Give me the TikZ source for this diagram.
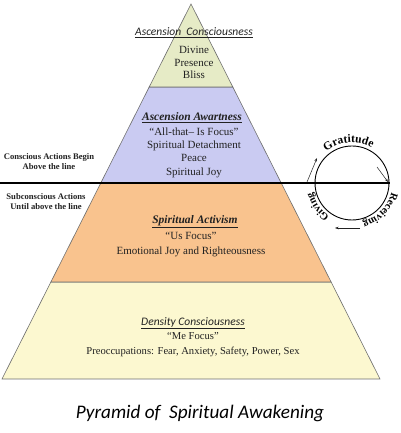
\documentclass[tikz,border=0pt]{standalone}
\usepackage{fontspec}
\setmainfont{Liberation Serif}
\newfontfamily\headfont{Carlito}
\usetikzlibrary{decorations.text,arrows.meta}
\definecolor{pgreen}{HTML}{E6EBC6}
\definecolor{pblue}{HTML}{CACBF2}
\definecolor{porange}{HTML}{F9C38E}
\definecolor{pyellow}{HTML}{FCF8D0}
\definecolor{edgegray}{HTML}{6E6E6E}
\definecolor{ink}{HTML}{222222}
\tikzset{
  tier/.style={draw=edgegray, line width=0.6pt},
  body/.style={align=center, text=ink, inner sep=0pt},
  headc/.style={text=ink, inner sep=0pt, font=\headfont\itshape\fontsize{11.5}{13}\selectfont},
  heads/.style={text=ink, inner sep=0pt, font=\bfseries\itshape\fontsize{11.5}{13}\selectfont},
  side/.style={align=center, text=ink, inner sep=0pt, font=\bfseries\fontsize{8.6}{10}\selectfont},
  flow/.style={draw=ink, line width=0.5pt, -{Stealth[length=3.5pt,width=2.5pt]}}
}
\begin{document}
\begin{tikzpicture}[x=1pt,y=1pt]
\useasboundingbox (0,0) rectangle (400,433);
\fill[white] (0,0) rectangle (400,433);
% tiers
\path[tier, fill=pyellow] (2,54) -- (380,54) -- (331.1,151) -- (50.9,151) -- cycle;
\path[tier, fill=porange] (50.9,151) -- (331.1,151) -- (281.2,250) -- (100.8,250) -- cycle;
\path[tier, fill=pblue] (100.8,250) -- (281.2,250) -- (232.8,346) -- (149.2,346) -- cycle;
\path[tier, fill=pgreen] (149.2,346) -- (232.8,346) -- (191,429) -- cycle;
% dividing line
\coordinate (lineL) at (0,250);
\coordinate (lineR) at (390,250);
\draw[black, line width=1.4pt] (lineL) -- (lineR);
% top tier
\node[headc] (h1) at (194,400) {\underline{Ascension\ \ Consciousness}};
\node[body, font=\fontsize{11}{12.5}\selectfont] (t1) at (194,370.5) {Divine\\Presence\\Bliss};
% second tier
\node[heads] (h2) at (192,315) {\underline{Ascension Awartness}};
\node[body, font=\fontsize{11}{13.3}\selectfont] (t2) at (194,280.5) {``All-that-- Is Focus''\\Spiritual Detachment\\Peace\\Spiritual Joy};
% side labels
\node[side] (s1) at (49,271.5) {Conscious Actions Begin\\Above the line};
\node[side] (s2) at (46,231) {Subconscious Actions\\Until above the line};
% third tier
\node[heads] (h3) at (195,211) {\underline{Spiritual Activism}};
\node[body, font=\fontsize{11}{15}\selectfont] (t3) at (191,188.5) {``Us Focus''\\Emotional Joy and Righteousness};
% bottom tier
\node[headc] (h4) at (193,110) {\underline{Density Consciousness}};
\node[body, font=\fontsize{10.6}{15}\selectfont] (t4) at (193,88.5) {``Me Focus''\\Preoccupations: Fear, Anxiety, Safety, Power, Sex};
% title
\node[text=black, inner sep=0pt, font=\headfont\itshape\fontsize{19.2}{21}\selectfont] (title) at (200,20) {Pyramid of\ \ Spiritual Awakening};
% cycle circle
\node[draw=black, line width=0.9pt, circle, minimum size=74pt, inner sep=0pt] (cyc) at (352,250) {};
\path[decorate, decoration={text along path, text align=center, text={|\bfseries\fontsize{11.5}{13}\selectfont|Gratitude}}]
  (352,250) ++(155:40.5) arc (155:35:40.5);
\path[decorate, decoration={text along path, text align=center, text={|\bfseries\fontsize{10.5}{12}\selectfont|Receiving}}]
  (352,250) ++(5:40.5) arc (5:-93:40.5);
\path[decorate, decoration={text along path, text align=center, text={|\bfseries\fontsize{10.5}{12}\selectfont|Giving}}]
  (352,250) ++(260:40.5) arc (260:170:40.5);
% flow arrows
\coordinate (a1s) at (307,251);
\coordinate (a1e) at (317,275);
\coordinate (a2s) at (377,266);
\coordinate (a2e) at (388,251);
\coordinate (a3s) at (360,205);
\coordinate (a3e) at (335,205);
\draw[flow] (a1s) -- (a1e);
\draw[flow] (a2s) -- (a2e);
\draw[flow] (a3s) -- (a3e);
\end{tikzpicture}
\end{document}
